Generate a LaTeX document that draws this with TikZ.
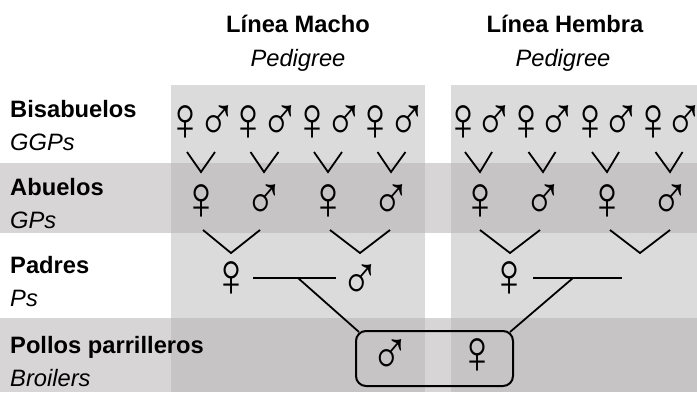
\documentclass[tikz,border=0pt]{standalone}
\usepackage{fontspec}
\setmainfont{Liberation Sans}
\newfontfamily\symfont[FakeStretch=0.86]{Liberation Sans}
\usetikzlibrary{calc}
\definecolor{panelgray}{HTML}{DCDBDB}
\definecolor{bandgray}{HTML}{D7D5D5}
\definecolor{deepgray}{HTML}{C6C4C4}
\begin{document}
\begin{tikzpicture}[x=1pt,y=-1pt,
  lbl/.style={anchor=base west,inner sep=0pt,font=\fontsize{23.7}{28}\selectfont\bfseries},
  sublbl/.style={anchor=base west,inner sep=0pt,font=\fontsize{23.7}{28}\selectfont\itshape},
  head/.style={anchor=base,inner sep=0pt,font=\fontsize{23.7}{28}\selectfont\bfseries},
  subhead/.style={anchor=base,inner sep=0pt,font=\fontsize{23.7}{28}\selectfont\itshape},
  sex/.style={inner sep=0pt,font=\symfont\fontsize{62}{68}\selectfont},
  link/.style={line width=1.8pt,black},
]
% canvas
\fill[white] (0,0) rectangle (697,392);
\useasboundingbox (0,0) rectangle (697,392);
% generation bands
\fill[bandgray] (0,163) rectangle (697,233);
\fill[bandgray] (0,318) rectangle (697,392);
% pedigree panels
\fill[panelgray] (171,85) rectangle (425,392);
\fill[panelgray] (451,85) rectangle (697,392);
% panels over the bands
\foreach \xa/\xb in {171/425,451/697} {
  \fill[deepgray] (\xa,163) rectangle (\xb,233);
  \fill[deepgray] (\xa,318) rectangle (\xb,392);
}

% column headings
\node[head] (hmacho) at (298,32) {Línea Macho};
\node[subhead] (pmacho) at (298,66) {Pedigree};
\node[head] (hhembra) at (565,32) {Línea Hembra};
\node[subhead] (phembra) at (563,66) {Pedigree};

% row labels
\node[lbl] (rgg) at (10,117) {Bisabuelos};
\node[sublbl] (rggs) at (10,150) {GGPs};
\node[lbl] (rg) at (10,195) {Abuelos};
\node[sublbl] (rgs) at (10,228) {GPs};
\node[lbl] (rp) at (10,273) {Padres};
\node[sublbl] (rps) at (10,306) {Ps};
\node[lbl] (rb) at (10,353) {Pollos parrilleros};
\node[sublbl] (rbs) at (10,386) {Broilers};

% great-grandparents
\foreach \k in {0,...,3} {
  \node[sex] (lf\k) at ({185+63.5*\k},123) {♀};
  \node[sex] (lm\k) at ({217+63.5*\k},123) {♂};
  \node[sex] (rf\k) at ({463+63.5*\k},123) {♀};
  \node[sex] (rm\k) at ({494+63.5*\k},123) {♂};
}

% grandparents
\node[sex] (la0) at (201,202) {♀};
\node[sex] (la1) at (264,202) {♂};
\node[sex] (la2) at (328,202) {♀};
\node[sex] (la3) at (391,202) {♂};
\node[sex] (ra0) at (480,202) {♀};
\node[sex] (ra1) at (543,202) {♂};
\node[sex] (ra2) at (607,202) {♀};
\node[sex] (ra3) at (670,202) {♂};

% crosses into the grandparents
\foreach \k in {0,...,3} {
  \draw[link] ($(lf\k)+(2,29)$) -- ($(la\k)+(0,-30)$) -- ($(lm\k)+(-2,29)$);
  \draw[link] ($(rf\k)+(2,29)$) -- ($(ra\k)+(0,-30)$) -- ($(rm\k)+(-2,29)$);
}

% parents
\node[sex] (pf) at (231,279) {♀};
\node[sex] (pm) at (360,282) {♂};
\node[sex] (qf) at (509,279) {♀};
\coordinate (qm) at (640,279);

% crosses into the parents
\draw[link] ($(la0)+(2,28)$) -- ($(pf)+(0,-26)$) -- ($(la1)+(-4,28)$);
\draw[link] ($(la2)+(2,28)$) -- ($(pm)+(0,-29)$) -- ($(la3)+(-1,28)$);
\draw[link] ($(ra0)+(0,28)$) -- ($(qf)+(1,-26)$) -- ($(ra1)+(-3,28)$);
\draw[link] ($(ra2)+(3,28)$) -- ($(qm)+(0,-26)$) -- ($(ra3)+(0,28)$);

% matings
\draw[link] ($(pf)+(22,-1)$) coordinate (la) -- ($(pm)+(-24,-4)$) coordinate (lb);
\draw[link] ($(qf)+(24,-1)$) coordinate (ra) -- ($(qm)+(-18,-1)$) coordinate (rb);
\coordinate (lj) at (298,278);
\coordinate (rj) at (573,278);

% broilers
\node[draw,rounded corners=10pt,line width=2pt,minimum width=157pt,minimum height=55pt,inner sep=0pt] (broil) at (434.5,358.5) {};
\node[sex] (bm) at (390,357) {♂};
\node[sex] (bf) at (477,356) {♀};
\draw[link] (lj) -- ($(broil.north west)+(4,2)$);
\draw[link] (rj) -- ($(broil.north east)+(-4,2)$);
\end{tikzpicture}
\end{document}
